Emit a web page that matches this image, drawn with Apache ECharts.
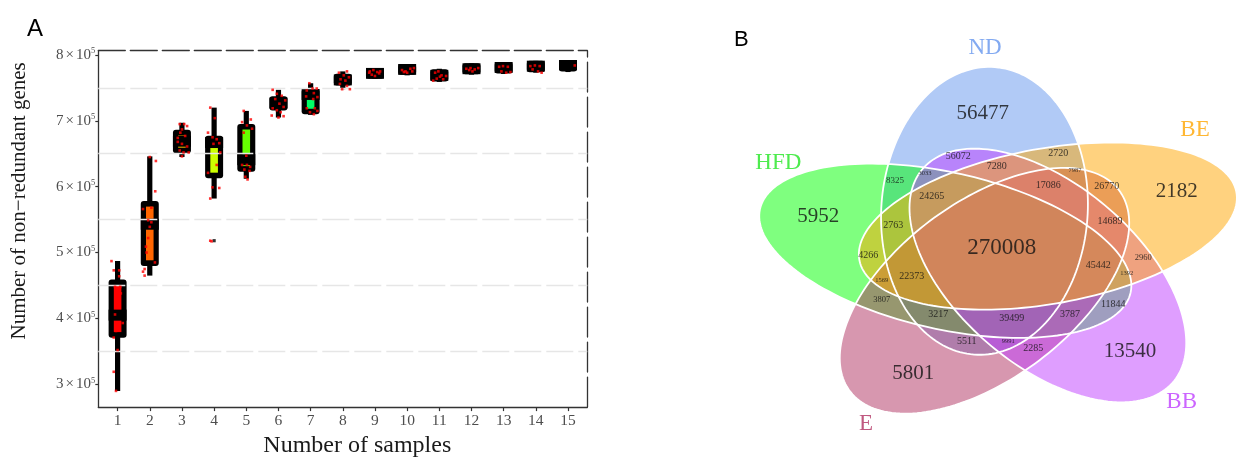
<!DOCTYPE html>
<html><head><meta charset="utf-8">
<script src="https://cdn.jsdelivr.net/npm/echarts@6/dist/echarts.min.js"></script>
<style>html,body{margin:0;padding:0;background:#fff}#c{width:1236px;height:463px}</style>
</head><body><div id="c"></div>
<script>
// ================= Panel A : rarefaction boxplots =================
const UNIT = 1e5;                       // values below are in units of 10^5 genes
const sampleCounts = [1,2,3,4,5,6,7,8,9,10,11,12,13,14,15];
const boxLow    = [2.90,4.65,6.45,5.82,6.12,7.05,7.09,7.48,7.64,7.69,7.59,7.70,7.71,7.73,7.74];
const boxQ1     = [3.75,4.84,6.55,6.17,6.27,7.20,7.14,7.58,7.68,7.74,7.64,7.75,7.76,7.78,7.79];
const boxMedian = [4.05,5.43,6.69,6.67,6.41,7.27,7.40,7.62,7.72,7.78,7.69,7.79,7.81,7.83,7.85];
const boxQ3     = [4.55,5.74,6.82,6.73,6.91,7.33,7.44,7.67,7.76,7.82,7.74,7.83,7.85,7.87,7.88];
const boxHigh   = [4.87,6.46,6.97,7.20,7.15,7.47,7.57,7.75,7.80,7.86,7.79,7.87,7.89,7.91,7.91];
const outliers  = [[4,5.18]];
const boxColors = ['#FF0000','#FF6600','#FFCC00','#CCFF00','#66FF00','#00FF00','#00FF66','#00FFCC',
                   '#00CCFF','#0066FF','#0000FF','#6600FF','#CC00FF','#FF00CC','#FF0066'];
// jittered observations: [horizontal jitter (category units), value (x10^5)]
const jitter1  = [[-0.19,4.87],[-0.12,4.73],[0.05,4.73],[0.05,4.64],[-0.08,4.48],[0.08,4.48],[0.10,4.38],[-0.05,4.28],[-0.08,4.06],[0.16,3.93],[-0.05,3.81],[-0.12,3.71],[0,3.52],[-0.12,3.19],[-0.05,2.90]];
const jitter2  = [[-0.21,5.66],[0.05,5.68],[-0.05,5.49],[0.05,5.46],[0,5.39],[-0.05,5.22],[-0.12,5.09],[-0.10,5.00],[0.16,4.85],[-0.16,4.75],[-0.21,4.71],[-0.16,4.65],[0.19,6.39],[0.17,5.93],[0,6.45]];
const jitter3  = [[-0.07,6.95],[0.07,6.95],[0.16,6.92],[0,6.87],[-0.05,6.82],[0.10,6.77],[-0.13,6.74],[-0.13,6.68],[0,6.65],[0.16,6.61],[-0.07,6.55],[0.05,6.52],[0.21,6.52],[0,6.46]];
const jitter4  = [[-0.12,7.20],[0.02,7.04],[-0.19,6.82],[-0.05,6.75],[0.08,6.72],[0.16,6.66],[-0.02,6.65],[0.19,6.52],[0.08,6.33],[-0.19,6.21],[-0.05,5.99],[0.16,5.98],[-0.12,5.82],[-0.12,5.18],[-0.08,5.17]];
const jitter5  = [[-0.08,7.15],[0.14,7.02],[-0.13,6.98],[0.02,6.93],[0.18,6.88],[-0.08,6.82],[0,6.47],[-0.13,6.33],[0.02,6.33],[0.12,6.30],[-0.06,6.26],[0.10,6.24],[-0.03,6.15],[0.04,6.11]];
const jitter6  = [[-0.18,7.47],[-0.05,7.41],[0.10,7.38],[-0.10,7.33],[0.21,7.31],[0.03,7.26],[0.16,7.21],[-0.18,7.19],[-0.05,7.16],[0.07,7.13],[-0.21,7.08],[0.16,7.07],[0,7.05]];
const jitter7  = [[-0.04,7.57],[0.06,7.49],[0.19,7.49],[-0.12,7.46],[0.10,7.42],[-0.14,7.37],[0.21,7.36],[0.08,7.33],[-0.12,7.19],[0.13,7.19],[0.21,7.15],[-0.02,7.13],[0.10,7.10]];
const jitter8  = [[0.13,7.75],[-0.12,7.73],[0.03,7.69],[0.19,7.66],[-0.07,7.63],[0.08,7.61],[-0.09,7.56],[0.13,7.53],[-0.02,7.48],[0.22,7.48]];
const jitter9  = [[-0.16,7.75],[-0.05,7.77],[0.07,7.74],[-0.10,7.70],[0.13,7.72],[0,7.68],[-0.18,7.73],[0.16,7.75]];
const jitter10 = [[-0.16,7.77],[-0.05,7.75],[0.10,7.79],[0.21,7.80],[0,7.73],[-0.10,7.74],[0.16,7.75]];
const jitter11 = [[-0.13,7.73],[-0.03,7.75],[0.07,7.69],[-0.08,7.64],[0.12,7.63],[-0.19,7.61],[0.02,7.67],[0.21,7.68]];
const jitter12 = [[-0.16,7.79],[-0.03,7.80],[0.10,7.78],[0.21,7.80],[0.03,7.75],[-0.07,7.77]];
const jitter13 = [[-0.14,7.82],[-0.02,7.83],[0.13,7.82],[-0.07,7.75],[0.08,7.73],[0.21,7.74]];
const jitter14 = [[-0.17,7.83],[-0.03,7.84],[0.12,7.83],[0.07,7.75],[0.18,7.73],[-0.10,7.78]];
const jitter15 = [[0.21,7.84]];
const jitterAll = [jitter1,jitter2,jitter3,jitter4,jitter5,jitter6,jitter7,jitter8,jitter9,jitter10,jitter11,jitter12,jitter13,jitter14,jitter15];
const yTickValues = [3,4,5,6,7,8];
const minorGridValues = [3.5,4.5,5.5,6.5,7.5];

// ================= Panel B : five-set Venn =================
const setNames  = ['ND','BE','BB','E','HFD'];
const setColors = ['#6495ED','#FFA500','#BF3EFF','#B03060','#00FF00'];
const setLabelColors = ['#6495ED','#FFA500','#BF3EFF','#B03060','#22E622'];
const regionCounts = [56477,2182,13540,5801,5952,270008,56072,7280,2720,7987,17086,26770,14689,2960,45442,1392,11844,3787,39499,9991,2285,5511,3217,3807,1569,22373,4266,2763,24265,8325,3033];

// ----- layout only (positions / sizes, not data) -----
const VENN = {cx:1002, cy:250.8, stretch:1.35, a:144, b:76.5, dist:42, centerAngle0:-18, axisAngle0:2, step:72, left:700};
const drawOrder = [0,4,3,2,1]; // ND, HFD, E, BB, BE
const regionLabelPos = [[-14.3,-137.5],[129.4,-59.1],[94.8,100.9],[-65.7,122.5],[-136.1,-34.1],[-0.2,-2.5],
  [-32.4,-94.8],[-3.9,-84.1],[41.7,-97.5],[54.1,-80.8],[34.3,-65.8],[77.6,-64.1],[80,-29.1],[104.7,6.9],
  [71.3,14.9],[92.4,22.5],[82.4,53.5],[50.4,63.5],[7.2,67.5],[4.7,90.2],[23.2,97.5],[-26.1,90.2],
  [-47.2,63.5],[-89.1,49.2],[-89.1,29.9],[-66.9,25.9],[-99,4.2],[-80.5,-25.1],[-52.1,-54.8],[-79.3,-69.8],[-57,-77.5]];
const regionLabelSize = [21,21,21,21,21,23,10,10,10,6.5,10,10,10,8.5,10,6.5,10,10,10,6.5,10,10,10,8.5,6.5,10,10,10,10,9,6.5];
const setLabelPos = [[-12.6,-202.8],[143,-120.8],[133.1,150.9],[-100.7,173.2],[-165.7,-87.5]];

// ---------- build ----------
const boxData = sampleCounts.map((k,i)=>[k, boxLow[i]*UNIT, boxQ1[i]*UNIT, boxMedian[i]*UNIT, boxQ3[i]*UNIT, boxHigh[i]*UNIT, i]);
const jitterData = [];
jitterAll.forEach((arr,i)=>arr.forEach(p=>jitterData.push([sampleCounts[i]+p[0], p[1]*UNIT])));
const outlierData = outliers.map(o=>[o[0], o[1]*UNIT]);

function ellipseGeom(k){
  const rad = Math.PI/180;
  const ca = (VENN.centerAngle0 + VENN.step*k)*rad;
  const aa = (VENN.axisAngle0 + VENN.step*k)*rad;
  return {cu: VENN.dist*Math.sin(ca), cv: -VENN.dist*Math.cos(ca),
          du: Math.sin(aa), dv: -Math.cos(aa), nu: Math.cos(aa), nv: Math.sin(aa)};
}
const vennData = drawOrder.map(k=>{const g=ellipseGeom(k); return [g.cu,g.cv,k];});
function ellipsePoints(api,k){
  const g = ellipseGeom(k), pts=[];
  for(let t=0;t<360;t+=2){
    const r=t*Math.PI/180;
    const u = g.cu + VENN.a*Math.sin(r)*g.du + VENN.b*Math.cos(r)*g.nu;
    const v = g.cv + VENN.a*Math.sin(r)*g.dv + VENN.b*Math.cos(r)*g.nv;
    pts.push(api.coord([u,v]));
  }
  return pts;
}
function hexA(hex,a){const n=parseInt(hex.slice(1),16);return `rgba(${n>>16},${(n>>8)&255},${n&255},${a})`;}

const regionItems = regionCounts.map((c,i)=>({value:[regionLabelPos[i][0],regionLabelPos[i][1]], name:String(c),
  label:{fontSize:regionLabelSize[i]}}));
const setItems = setNames.map((s,i)=>({value:setLabelPos[i], name:s, label:{color:setLabelColors[i]}}));

const uMin=(VENN.left-VENN.cx)/VENN.stretch, uMax=(1236-VENN.cx)/VENN.stretch;
const vMin=-VENN.cy, vMax=463-VENN.cy;

const serif='"Liberation Serif","Times New Roman",serif';
const chart = echarts.init(document.getElementById('c'), null, {renderer:'canvas'});
chart.setOption({
  animation:false,
  backgroundColor:'#fff',
  graphic:[
    {type:'text', left:27, top:17, style:{text:'A', font:'24px "Liberation Sans",Arial,sans-serif', fill:'#000'}},
    {type:'text', left:734, top:29, style:{text:'B', font:'22px "Liberation Sans",Arial,sans-serif', fill:'#000'}}
  ],
  grid:[
    {left:98.3, top:50.7, width:489, height:366},
    {left:VENN.left, top:0, width:1236-VENN.left, height:463}
  ],
  xAxis:[
    {type:'value', gridIndex:0, min:0.4, max:15.6, position:'bottom',
     axisLine:{lineStyle:{color:'#333',width:1.3}},
     axisTick:{customValues:sampleCounts, length:4, lineStyle:{color:'#333',width:1.2}},
     axisLabel:{customValues:sampleCounts, fontFamily:serif, fontSize:15.5, color:'#4d4d4d', margin:6},
     splitLine:{show:false},
     name:'Number of samples', nameLocation:'middle', nameGap:23,
     nameTextStyle:{fontFamily:serif, fontSize:24, color:'#1a1a1a', padding:[0,0,0,29]}},
    {type:'value', gridIndex:0, min:0.4, max:15.6, position:'top',
     axisLine:{lineStyle:{color:'#333',width:1.3,type:[27,5]}}, axisTick:{show:false}, axisLabel:{show:false}, splitLine:{show:false}},
    {type:'value', gridIndex:1, min:uMin, max:uMax, show:false, splitLine:{show:false}}
  ],
  yAxis:[
    {type:'value', gridIndex:0, min:265400, max:806400, position:'left',
     axisLine:{show:true, lineStyle:{color:'#333',width:1.3}},
     axisTick:{show:true, customValues:yTickValues.map(v=>v*UNIT), length:3, lineStyle:{color:'#333',width:1.2}},
     axisLabel:{customValues:yTickValues.map(v=>v*UNIT), margin:3,
       formatter:v=>`{a|${Math.round(v/UNIT)}}{x|×}{a|10}{s|5}`,
       rich:{a:{fontFamily:serif,fontSize:15,color:'#4d4d4d'},
             x:{fontFamily:serif,fontSize:15,color:'#4d4d4d',padding:[0,2,0,2]},
             s:{fontFamily:serif,fontSize:8.5,color:'#4d4d4d',verticalAlign:'top',padding:[0,0,8,0]}}},
     splitLine:{show:false},
     name:'Number of non\u2212redundant genes', nameLocation:'middle', nameGap:68, nameRotate:90,
     nameTextStyle:{fontFamily:serif, fontSize:21, color:'#1a1a1a', padding:[0,0,0,56]}},
    {type:'value', gridIndex:0, min:265400, max:806400, position:'right',
     axisLine:{show:true, lineStyle:{color:'#333',width:1.3,type:[30,5]}}, axisTick:{show:false}, axisLabel:{show:false}, splitLine:{show:false}},
    {type:'value', gridIndex:1, min:vMin, max:vMax, inverse:true, show:false, splitLine:{show:false}}
  ],
  series:[
    {type:'line', xAxisIndex:0, yAxisIndex:0, data:[], silent:true, z:1,
     markLine:{silent:true, symbol:'none', label:{show:false},
       lineStyle:{color:'#e6e6e6', width:1.4, type:[27,5]},
       data:minorGridValues.map(v=>({yAxis:v*UNIT}))}},
    {type:'custom', name:'box', xAxisIndex:0, yAxisIndex:0, data:boxData, z:3, silent:true,
     encode:{x:0, y:[1,2,3,4,5]},
     renderItem:function(params, api){
       const k=api.value(0), ci=api.value(6);
       const pL=api.coord([k,api.value(1)]), pQ1=api.coord([k,api.value(2)]), pM=api.coord([k,api.value(3)]),
             pQ3=api.coord([k,api.value(4)]), pH=api.coord([k,api.value(5)]);
       const cx=pL[0], W=18, WW=5.2, B=5.6, BX=5.2, MH=11;
       const ch=[];
       ch.push({type:'rect', shape:{x:cx-WW/2, y:pH[1], width:WW, height:pL[1]-pH[1]}, style:{fill:'#000'}});
       const top=pQ3[1]-B/2, bot=pQ1[1]+B/2;
       ch.push({type:'rect', shape:{x:cx-W/2, y:top, width:W, height:bot-top, r:3}, style:{fill:'#000'}});
       const it=pQ3[1]+B/2, ib=pQ1[1]-B/2;
       if(ib-it>0.5) ch.push({type:'rect', shape:{x:cx-W/2+BX, y:it, width:W-2*BX, height:ib-it}, style:{fill:boxColors[ci]}});
       const mt=Math.max(top,pM[1]-MH/2), mb=Math.min(bot,pM[1]+MH/2);
       ch.push({type:'rect', shape:{x:cx-W/2, y:mt, width:W, height:mb-mt}, style:{fill:'#000'}});
       return {type:'group', children:ch};
     }},
    {type:'scatter', xAxisIndex:0, yAxisIndex:0, data:outlierData, symbol:'rect', symbolSize:3.2, z:4,
     itemStyle:{color:'#000'}, silent:true},
    {type:'scatter', xAxisIndex:0, yAxisIndex:0, data:jitterData, symbol:'rect', symbolSize:2.6, z:5,
     itemStyle:{color:'#FF0000'}, silent:true},
    // Venn fills
    {type:'custom', xAxisIndex:2, yAxisIndex:2, data:vennData, z:2, silent:true, encode:{x:0,y:1},
     renderItem:function(params, api){
       const k=api.value(2);
       return {type:'polygon', shape:{points:ellipsePoints(api,k)}, style:{fill:hexA(setColors[k],0.5)}};
     }},
    // Venn outlines
    {type:'custom', xAxisIndex:2, yAxisIndex:2, data:vennData, z:3, silent:true, encode:{x:0,y:1},
     renderItem:function(params, api){
       const k=api.value(2);
       return {type:'polygon', shape:{points:ellipsePoints(api,k)}, style:{fill:'none', stroke:'#fff', lineWidth:1.8}};
     }},
    {type:'scatter', xAxisIndex:2, yAxisIndex:2, data:regionItems, symbolSize:0, z:6, silent:true,
     label:{show:true, position:'inside', formatter:'{b}', fontFamily:serif, color:'#111'}},
    {type:'scatter', xAxisIndex:2, yAxisIndex:2, data:setItems, symbolSize:0, z:6, silent:true,
     label:{show:true, position:'inside', formatter:'{b}', fontFamily:serif, fontSize:23}}
  ]
});
</script></body></html>
